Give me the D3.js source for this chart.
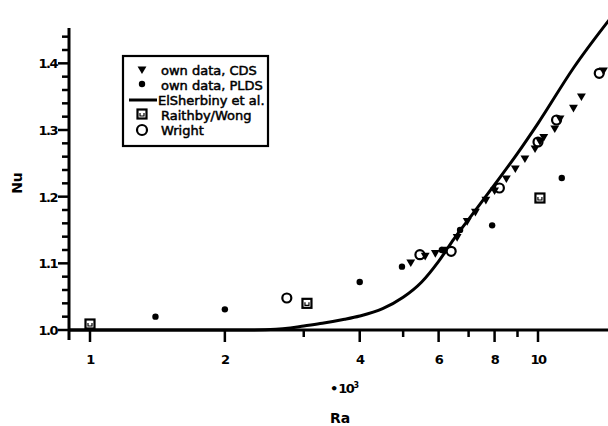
<!DOCTYPE html>
<html>
<head>
<meta charset="utf-8">
<script src="https://cdn.jsdelivr.net/npm/d3@7"></script>
<style>
  body { margin: 0; background: #fff; }
  svg { display: block; }
  text { font-family: "DejaVu Sans", "Liberation Sans", sans-serif; fill: #000; }
</style>
</head>
<body>
<script>
// Data (Ra in units of 10^3)
const cdsRa = [5.2, 5.6, 5.9, 6.2, 6.6, 6.95, 7.25, 7.65, 8.0, 8.5, 8.9, 9.35, 9.85, 10.1, 10.3, 10.9, 11.2, 12.0, 12.5, 14.0];
const cdsNu = [1.102, 1.112, 1.116, 1.121, 1.14, 1.164, 1.178, 1.196, 1.21, 1.228, 1.243, 1.258, 1.273, 1.284, 1.29, 1.303, 1.318, 1.334, 1.351, 1.39];
const pldsRa = [1.4, 2.0, 4.0, 4.97, 6.1, 6.7, 7.9, 11.3];
const pldsNu = [1.02, 1.031, 1.072, 1.095, 1.12, 1.15, 1.157, 1.228];
const curveRa = [0.85, 1, 2, 2.3, 2.6, 2.8, 3.0, 3.3, 3.7, 4, 4.5, 5, 5.5, 6, 6.5, 7, 8, 9, 10, 12, 15];
const curveNu = [1.0, 1.0, 1.0, 1.0, 1.001, 1.003, 1.006, 1.010, 1.016, 1.021, 1.032, 1.049, 1.072, 1.103, 1.137, 1.166, 1.218, 1.265, 1.31, 1.393, 1.48];
const raithbyRa = [1.0, 3.05, 10.1];
const raithbyNu = [1.009, 1.04, 1.198];
const wrightRa = [2.75, 5.45, 6.4, 8.2, 10.0, 11.0, 13.7];
const wrightNu = [1.048, 1.113, 1.118, 1.213, 1.282, 1.315, 1.385];

const xTicks = [1, 2, 3, 4, 5, 6, 7, 8, 9, 10];
const xLabels = ["1", "2", "", "4", "", "6", "", "8", "", "10"];
const yTicks = d3.range(0, 23).map(i => 1 + i * 0.02);
const yLabels = ["1.0", "1.1", "1.2", "1.3", "1.4"];

const legendItems = ["own data, CDS", "own data, PLDS", "ElSherbiny et al.", "Raithby/Wong", "Wright"];

// Canvas
const w = 608;
const h = 426;
const svg = d3.select("body").append("svg").attr("width", w).attr("height", h);

// Scales
const x = d3.scaleLog().domain([1, 10]).range([90, 538]);
const y = d3.scaleLinear().domain([1.0, 1.45]).range([330, 30]);
const x0 = 69; // y axis position

// Clip for the plot
svg.append("clipPath").attr("id", "clip")
  .append("rect").attr("x", x0).attr("y", 0).attr("width", w - x0).attr("height", y(1.0) + 2);

// Axes lines
svg.append("line")
  .attr("x1", x0).attr("x2", w).attr("y1", y(1)).attr("y2", y(1))
  .attr("stroke", "#000").attr("stroke-width", 3);
svg.append("line")
  .attr("x1", x0).attr("x2", x0).attr("y1", y(1.45) - 2).attr("y2", y(1) + 10)
  .attr("stroke", "#000").attr("stroke-width", 3);

// Y ticks
yTicks.forEach(v => {
  const major = Math.abs((v * 10) - Math.round(v * 10)) < 1e-6;
  svg.append("line")
    .attr("x1", x0 - (major ? 11 : 7)).attr("x2", x0)
    .attr("y1", y(v)).attr("y2", y(v))
    .attr("stroke", "#000").attr("stroke-width", 2.5);
});
yLabels.forEach(l => {
  svg.append("text")
    .attr("x", 57).attr("y", y(+l) + 5)
    .attr("text-anchor", "end")
    .style("font-size", "13px")
    .style("font-weight", "bold")
    .style("letter-spacing", "-1.5px")
    .text(l);
});

// X ticks
xTicks.forEach((v, i) => {
  const major = xLabels[i] !== "";
  svg.append("line")
    .attr("x1", x(v)).attr("x2", x(v))
    .attr("y1", y(1)).attr("y2", y(1) + (major ? 12 : 7))
    .attr("stroke", "#000").attr("stroke-width", 2.5);
  if (major) {
    svg.append("text")
      .attr("x", x(v)).attr("y", 364)
      .attr("text-anchor", "middle")
      .style("font-size", "13px")
      .style("font-weight", "bold")
      .style("letter-spacing", "-1.5px")
      .text(xLabels[i]);
  }
});

// Axis titles
const mult = svg.append("text").attr("x", 330).attr("y", 393)
  .style("font-size", "13px").style("font-weight", "bold");
mult.append("tspan").text("\u2022");
mult.append("tspan").style("letter-spacing", "-1.5px").text("10");
mult.append("tspan").attr("dy", -5).style("font-size", "8px").text("3");
svg.append("text").attr("x", 340).attr("y", 423).attr("text-anchor", "middle")
  .style("font-size", "14px").style("font-weight", "bold").text("Ra");
svg.append("text")
  .attr("transform", "translate(22,183) rotate(-90)")
  .attr("text-anchor", "middle")
  .style("font-size", "14px").style("font-weight", "bold").text("Nu");

// Plot group
const plot = svg.append("g").attr("clip-path", "url(#clip)");

// ElSherbiny curve
const curveData = curveRa.map((r, i) => [r, curveNu[i]]);
plot.append("path")
  .datum(curveData)
  .attr("fill", "none")
  .attr("stroke", "#000")
  .attr("stroke-width", 3)
  .attr("d", d3.line().x(d => x(d[0])).y(d => y(d[1])).curve(d3.curveMonotoneX));

// Raithby/Wong squares
const sq = 9;
raithbyRa.forEach((r, i) => {
  const g = plot.append("g").attr("transform", `translate(${x(r)},${y(raithbyNu[i])})`);
  g.append("rect").attr("x", -sq / 2).attr("y", -sq / 2).attr("width", sq).attr("height", sq)
    .attr("fill", "#fff").attr("stroke", "#000").attr("stroke-width", 2.2);
  g.append("path").attr("d", "M-2,-1V2H2V-1").attr("fill", "none").attr("stroke", "#000").attr("stroke-width", 1.2);
});

// Wright circles
plot.selectAll(".wright")
  .data(wrightRa.map((r, i) => [r, wrightNu[i]]))
  .enter().append("circle")
  .attr("class", "wright")
  .attr("cx", d => x(d[0])).attr("cy", d => y(d[1]))
  .attr("r", 4.5)
  .attr("fill", "#fff").attr("stroke", "#000").attr("stroke-width", 2.2);

// PLDS dots
plot.selectAll(".plds")
  .data(pldsRa.map((r, i) => [r, pldsNu[i]]))
  .enter().append("circle")
  .attr("class", "plds")
  .attr("cx", d => x(d[0])).attr("cy", d => y(d[1]))
  .attr("r", 3.2)
  .attr("fill", "#000");

// CDS triangles (pointing down)
const tri = d3.symbol().type(d3.symbolTriangle).size(34);
plot.selectAll(".cds")
  .data(cdsRa.map((r, i) => [r, cdsNu[i]]))
  .enter().append("path")
  .attr("class", "cds")
  .attr("transform", d => `translate(${x(d[0])},${y(d[1])}) rotate(180)`)
  .attr("d", tri)
  .attr("fill", "#000");

// Legend
const legend = svg.append("g").attr("id", "legend");
legend.append("rect")
  .attr("x", 123).attr("y", 56).attr("width", 145).attr("height", 90)
  .attr("fill", "#fff").attr("stroke", "#000").attr("stroke-width", 2.2);
const rowY = [71, 86, 101, 116, 131];
const symX = 142;
legend.append("path").attr("transform", `translate(${symX},${rowY[0] - 2}) rotate(180)`)
  .attr("d", tri).attr("fill", "#000");
legend.append("circle").attr("cx", symX).attr("cy", rowY[1] - 2).attr("r", 3.2).attr("fill", "#000");
legend.append("line").attr("x1", 129).attr("x2", 157).attr("y1", rowY[2] - 1).attr("y2", rowY[2] - 1)
  .attr("stroke", "#000").attr("stroke-width", 3);
legend.append("rect").attr("x", symX - 4.5).attr("y", rowY[3] - 6.5).attr("width", 9).attr("height", 9)
  .attr("fill", "#fff").attr("stroke", "#000").attr("stroke-width", 2.2);
legend.append("path").attr("d", `M${symX - 2},${rowY[3] - 3}V${rowY[3]}H${symX + 2}V${rowY[3] - 3}`)
  .attr("fill", "none").attr("stroke", "#000").attr("stroke-width", 1.2);
legend.append("circle").attr("cx", symX).attr("cy", rowY[4] - 1).attr("r", 5)
  .attr("fill", "#fff").attr("stroke", "#000").attr("stroke-width", 2.2);
legendItems.forEach((t, i) => {
  legend.append("text")
    .attr("x", i === 2 ? 158 : 161).attr("y", rowY[i] + 4)
    .style("font-size", "13px")
    .style("stroke", "#000").style("stroke-width", "0.5px")
    .text(t);
});
</script>
</body>
</html>
